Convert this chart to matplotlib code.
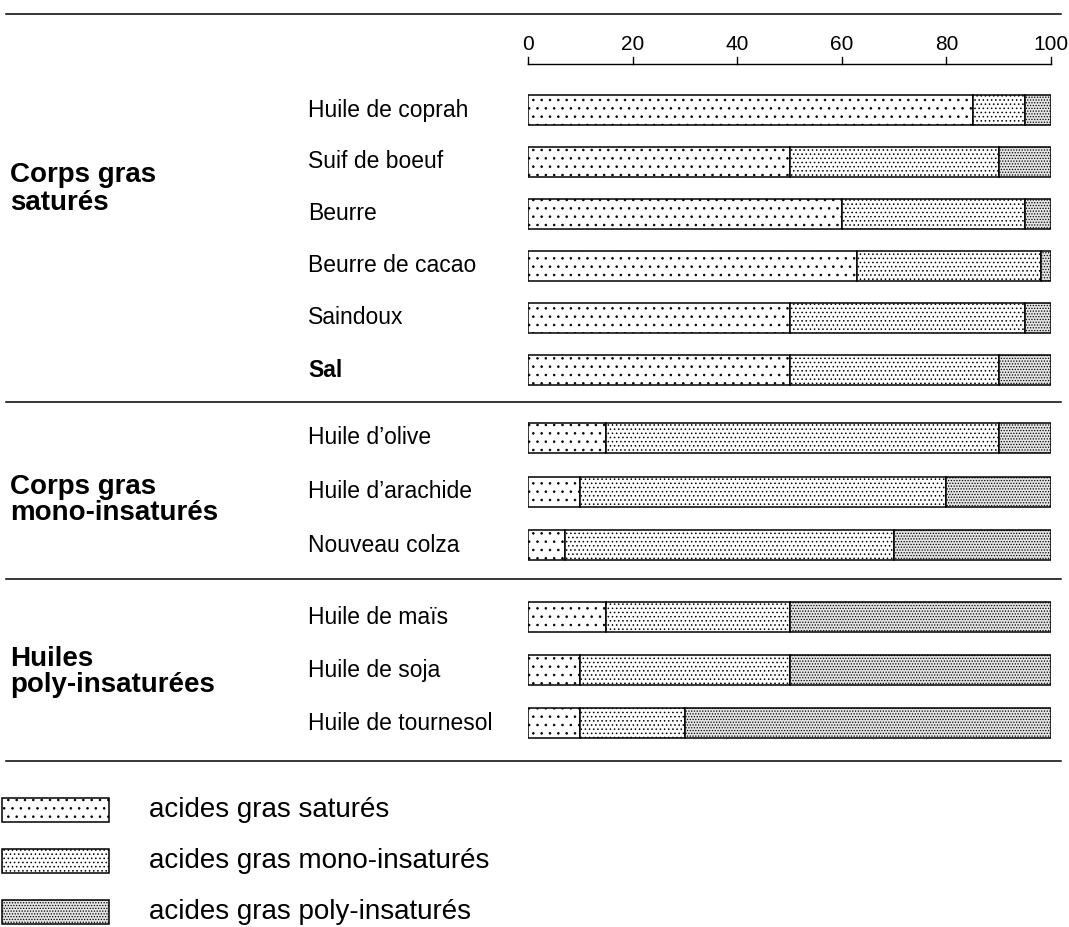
import matplotlib
matplotlib.use('Agg')
import matplotlib.pyplot as plt
from matplotlib.lines import Line2D
from matplotlib.patches import Rectangle

plt.rcParams['font.family'] = ['Liberation Sans', 'DejaVu Sans']
plt.rcParams['hatch.linewidth'] = 0.6

# data (% of fatty acids)
groups = ['Corps gras\nsaturés', 'Corps gras\nmono-insaturés', 'Huiles\npoly-insaturées']
items = [
    ['Huile de coprah', 'Suif de boeuf', 'Beurre', 'Beurre de cacao', 'Saindoux', 'Sal'],
    ["Huile d\u2019olive", "Huile d\u2019arachide", 'Nouveau colza'],
    ['Huile de maïs', 'Huile de soja', 'Huile de tournesol'],
]
satures = [85, 50, 60, 63, 50, 50, 15, 10, 7, 15, 10, 10]
mono = [10, 40, 35, 35, 45, 40, 75, 70, 63, 35, 40, 20]
poly = [5, 10, 5, 2, 5, 10, 10, 20, 30, 50, 50, 70]
series_labels = ['acides gras saturés', 'acides gras mono-insaturés', 'acides gras poly-insaturés']
ticks = [0, 20, 40, 60, 80, 100]

W, H = 1069, 927
hatches = ['..', '....', '......']
faces = ['white', 'white', '#e4e4e4']

# layout (pixels)
group_first = [110, 438, 617]
row_step = [52, 53.5, 53]
group_label_y = [189, 500, 672]
sep_lines = [14, 402, 579, 761]

fig = plt.figure(figsize=(W / 100, H / 100), dpi=100)
ax = fig.add_axes([528 / W, 0, 523 / W, 1])
ax.set_xlim(0, 100)
ax.set_ylim(H, 0)
ax.axis('off')

def fx(px):
    return px / W

def fy(py):
    return 1 - py / H

ys = []
for g, names in enumerate(items):
    for i, name in enumerate(names):
        y = group_first[g] + i * row_step[g]
        ys.append(y)
        fig.text(fx(308), fy(y), name, fontsize=16.5, va='center', ha='left',
                 fontweight='bold' if name == 'Sal' else 'normal')
    fig.text(fx(10), fy(group_label_y[g]), groups[g], fontsize=20, fontweight='bold',
             va='center', ha='left', linespacing=1.05)

left = [0] * len(ys)
for vals, h, fc in zip([satures, mono, poly], hatches, faces):
    ax.barh(ys, vals, left=left, height=30, color=fc, edgecolor='black',
            linewidth=1.1, hatch=h)
    left = [l + v for l, v in zip(left, vals)]

# top scale bracket
ax.plot([0, 100], [64, 64], color='black', lw=1, clip_on=False)
for t in ticks:
    ax.plot([t, t], [64, 57], color='black', lw=1, clip_on=False)
    ax.text(t, 44, str(t), ha='center', va='center', fontsize=15)

for y in sep_lines:
    fig.add_artist(Line2D([fx(6), fx(1061)], [fy(y), fy(y)], color='black', lw=1.1,
                          transform=fig.transFigure))

# legend
leg_y = [810, 861, 912]
for lab, h, fc, y in zip(series_labels, hatches, faces, leg_y):
    fig.add_artist(Rectangle((fx(2), fy(y + 12)), fx(107), 24 / H, facecolor=fc,
                             edgecolor='black', lw=1.1, hatch=h,
                             transform=fig.transFigure))
    fig.text(fx(149), fy(y), lab, fontsize=20, va='center', ha='left')

fig.savefig('out.png', dpi=100)
